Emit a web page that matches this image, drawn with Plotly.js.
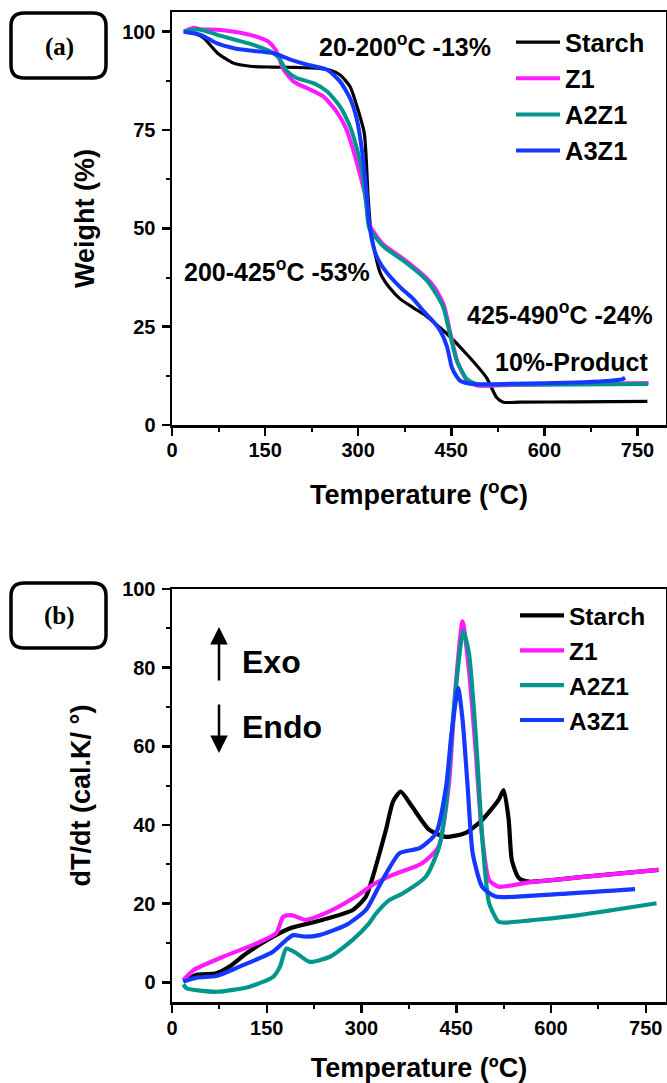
<!DOCTYPE html>
<html><head><meta charset="utf-8">
<script src="https://cdn.plot.ly/plotly-3.0.1.min.js"></script>
<style>html,body{margin:0;padding:0;background:#fff;} #chart{width:667px;height:1083px;}</style>
</head><body><div id="chart"></div>
<script>
// ---------- Panel (a): TGA, Weight (%) vs Temperature (°C) ----------
const starchA_T = [19, 35, 51, 73, 99, 126, 160, 200, 234, 255, 271, 287, 300, 310, 316, 320, 328, 336, 350, 368, 389, 409, 430, 443, 475, 507, 523, 534, 560, 650, 766];
const starchA_W = [100, 99.6, 98.4, 94.6, 92, 91.2, 91, 90.9, 90.7, 90.2, 89, 86, 80, 74, 58, 50, 43, 38.5, 35, 32, 29.8, 27.8, 25, 23.2, 18, 12, 7, 5.8, 5.8, 5.9, 6];
const z1A_T = [19, 27, 35, 45, 73, 100, 126, 155, 167, 180, 196, 218, 244, 266, 280, 299, 313, 318, 340, 375, 409, 423, 438, 449, 460, 476, 491, 550, 650, 768];
const z1A_W = [100, 100.6, 101, 100.6, 100.5, 100, 99.2, 97.5, 95.4, 90.3, 87.3, 85.6, 83.5, 79.5, 75.5, 66, 57, 51, 46, 42, 37.5, 35, 30.5, 23, 16, 11.2, 10, 10.2, 10.4, 10.7];
const a2z1A_T = [19, 30, 46, 73, 100, 126, 158, 172, 185, 200, 228, 250, 271, 287, 300, 307, 313, 318, 340, 375, 409, 421, 437, 448, 459, 475, 491, 550, 650, 767];
const a2z1A_W = [100, 100.4, 100.5, 99.2, 98, 96.9, 95, 93.4, 90, 88.3, 86.9, 84.8, 80.9, 75.8, 69, 64, 56, 50, 45.5, 41.5, 37, 34.5, 30, 23, 16.3, 11.7, 10.4, 10.3, 10.3, 10.4];
const a3z1A_T = [19, 46, 73, 100, 126, 164, 191, 218, 250, 271, 287, 298, 306, 313, 318, 327, 336, 350, 368, 389, 405, 420, 432, 443, 451, 458, 465, 485, 550, 650, 700, 725, 730];
const a3z1A_W = [100, 99.2, 97, 95.8, 95.2, 94.5, 92.9, 91.6, 90.3, 87.3, 83, 77.6, 70, 60, 51, 44, 41, 38, 35, 32, 29, 26.5, 24, 20, 14.6, 12.5, 11.2, 10.4, 10.5, 10.8, 11.2, 11.6, 12];

// ---------- Panel (b): DTA, dT/dt vs Temperature (°C) ----------
const starchB_T = [18, 39, 70, 91, 118, 160, 186, 239, 286, 307, 318, 328, 339, 350, 362, 380, 407, 433, 465, 491, 517, 525, 533, 538, 549, 565, 650, 770];
const starchB_V = [0.2, 1.9, 2.3, 4, 7.4, 11.6, 13.7, 15.9, 18.4, 21.8, 26.9, 32.5, 39, 46, 48.5, 44.7, 38.8, 37, 38, 41.3, 46.4, 48.9, 41.3, 31, 26.5, 25.6, 26.8, 28.6];
const z1B_T = [18, 34, 81, 134, 165, 176, 189, 212, 254, 291, 318, 349, 396, 422, 438, 449, 460, 470, 481, 491, 502, 517, 565, 770];
const z1B_V = [0.6, 3.1, 6.5, 9.9, 12.5, 16.7, 17.1, 15.9, 18.4, 21.8, 24.8, 27.3, 30.3, 34.5, 49.8, 75.2, 91.8, 79.5, 58.3, 37, 26, 24.3, 25.4, 28.6];
const a2z1B_T = [18, 23, 70, 123, 160, 171, 181, 197, 218, 250, 286, 312, 323, 344, 365, 402, 423, 434, 447, 461, 470, 481, 491, 502, 517, 528, 644, 767];
const a2z1B_V = [-0.5, -1.5, -2.4, -1.1, 1.4, 4, 8.6, 7.4, 5.2, 6.5, 10.8, 15, 17.5, 20.9, 22.6, 26.9, 34.5, 45.6, 71, 89.2, 83.7, 62.5, 37, 20.1, 15.4, 15.2, 17.1, 20.1];
const a3z1B_T = [18, 39, 70, 107, 160, 181, 192, 212, 233, 276, 307, 328, 360, 392, 418, 434, 442, 453, 460, 468, 476, 491, 512, 565, 733];
const a3z1B_V = [0.2, 1.2, 1.6, 4, 7.8, 10.8, 12, 11.6, 12, 14.6, 18.4, 24.5, 32.8, 34.1, 37.9, 49.8, 62.5, 74.8, 66.7, 49.8, 32.8, 24.3, 21.8, 22, 23.7];

const seriesNames = ['Starch', 'Z1', 'A2Z1', 'A3Z1'];
const colors = ['#000000', '#ff1aff', '#00968c', '#1438ff'];

const xTitleA = 'Temperature (<sup>o</sup>C)';
const xTitleB = 'Temperature (ºC)';

// ---------- figure ----------
const W = 667, H = 1083;
const FONT = 'Liberation Sans, Arial, Helvetica, sans-serif';
const px = (x) => x / W;
const py = (y) => 1 - y / H;

const dataA = [[starchA_T, starchA_W], [z1A_T, z1A_W], [a2z1A_T, a2z1A_W], [a3z1A_T, a3z1A_W]];
const dataB = [[starchB_T, starchB_V], [z1B_T, z1B_V], [a2z1B_T, a2z1B_V], [a3z1B_T, a3z1B_V]];

const traces = [];
dataA.forEach((d, i) => traces.push({
  x: d[0], y: d[1], name: seriesNames[i], xaxis: 'x', yaxis: 'y', legend: 'legend',
  mode: 'lines', line: {color: colors[i], width: i === 0 ? 3.2 : 4, shape: 'spline', smoothing: 0.6}
}));
dataB.forEach((d, i) => traces.push({
  x: d[0], y: d[1], name: seriesNames[i], xaxis: 'x2', yaxis: 'y2', legend: 'legend2',
  mode: 'lines', line: {color: colors[i], width: 4.2, shape: 'spline', smoothing: 0.6}
}));

const tickFont = {family: FONT, size: 20, color: '#000', weight: 'bold'};
const titleFont = () => ({family: FONT, size: 27, color: '#000', weight: 'bold'});
function axisBase() {
  return {
    showline: true, linewidth: 2.5, linecolor: '#000', mirror: true,
    ticks: 'outside', ticklen: 8, tickwidth: 2.5, tickcolor: '#000',
    showgrid: false, zeroline: false, tickfont: Object.assign({}, tickFont), automargin: false,
  };
}
const xdom = [px(172), px(666)];

function rrect(x0, y0, x1, y1, r) {
  const P = (x, y) => px(x) + ',' + py(y);
  return 'M' + P(x0 + r, y0) + ' L' + P(x1 - r, y0) + ' Q' + P(x1, y0) + ' ' + P(x1, y0 + r) +
    ' L' + P(x1, y1 - r) + ' Q' + P(x1, y1) + ' ' + P(x1 - r, y1) +
    ' L' + P(x0 + r, y1) + ' Q' + P(x0, y1) + ' ' + P(x0, y1 - r) +
    ' L' + P(x0, y0 + r) + ' Q' + P(x0, y0) + ' ' + P(x0 + r, y0) + ' Z';
}

function label(x, y, text, size, opts) {
  return Object.assign({xref: 'paper', yref: 'paper', x: px(x), y: py(y), text: text, showarrow: false,
    xanchor: 'center', yanchor: 'middle',
    font: {family: FONT, size: size, color: '#000', weight: 'bold'}}, opts || {});
}
const serif = 'Liberation Serif, Times New Roman, serif';

const layout = {
  width: W, height: H,
  margin: {l: 0, r: 0, t: 0, b: 0},
  paper_bgcolor: '#fff', plot_bgcolor: '#fff',
  xaxis: Object.assign(axisBase(), {domain: xdom, anchor: 'y', range: [0, 796], tick0: 0, dtick: 150,
    ticklabelstandoff: -3,
    minor: {dtick: 75, ticks: 'outside', ticklen: 4, tickwidth: 2, tickcolor: '#000'},
    title: {text: xTitleA, font: titleFont(), standoff: 26}}),
  yaxis: Object.assign(axisBase(), {domain: [py(425), py(12)], anchor: 'x', range: [0, 105], tick0: 0, dtick: 25,
    ticklabelstandoff: 2,
    minor: {dtick: 12.5, ticks: 'outside', ticklen: 4, tickwidth: 2, tickcolor: '#000'},
    title: {text: 'Weight (%)', font: titleFont(), standoff: 20}}),
  xaxis2: Object.assign(axisBase(), {domain: xdom, anchor: 'y2', range: [0, 782], tick0: 0, dtick: 150,
    ticklabelstandoff: -2,
    minor: {dtick: 75, ticks: 'outside', ticklen: 4, tickwidth: 2, tickcolor: '#000'},
    title: {text: xTitleB, font: titleFont(), standoff: 22}}),
  yaxis2: Object.assign(axisBase(), {domain: [py(1002), py(589)], anchor: 'x2', range: [-5, 100], tick0: 0, dtick: 20,
    ticklabelstandoff: 2,
    minor: {dtick: 10, ticks: 'outside', ticklen: 4, tickwidth: 2, tickcolor: '#000'},
    title: {text: 'dT/dt (cal.K/ °)', font: titleFont(), standoff: 24}}),
  legend: {x: px(511), y: py(19), xanchor: 'left', yanchor: 'top', bgcolor: 'rgba(0,0,0,0)',
    font: {family: FONT, size: 25.5, color: '#000', weight: 'bold'}, itemwidth: 44, tracegroupgap: 0},
  legend2: {x: px(515), y: py(593), xanchor: 'left', yanchor: 'top', bgcolor: 'rgba(0,0,0,0)',
    font: {family: FONT, size: 24.5, color: '#000', weight: 'bold'}, itemwidth: 44, tracegroupgap: 0},
  shapes: [
    {type: 'path', xref: 'paper', yref: 'paper', path: rrect(11, 13, 106, 78, 13), line: {color: '#000', width: 3.5}},
    {type: 'path', xref: 'paper', yref: 'paper', path: rrect(11, 583, 106, 648, 13), line: {color: '#000', width: 3.5}},
  ],
  annotations: [
    label(59, 47, '(a)', 25, {font: {family: serif, size: 25, color: '#000', weight: 'bold'}}),
    label(59, 616, '(b)', 25, {font: {family: serif, size: 25, color: '#000', weight: 'bold'}}),
    label(405, 45, '20-200<sup>o</sup>C -13%', 25),
    label(277, 270, '200-425<sup>o</sup>C -53%', 25),
    label(560, 313, '425-490<sup>o</sup>C -24%', 25),
    label(571, 362, '10%-Product', 25),
    label(240, 662, 'Exo', 32, {xanchor: 'left'}),
    label(240, 727, 'Endo', 32, {xanchor: 'left'}),
    {xref: 'paper', yref: 'paper', x: px(219), y: py(627), text: '', showarrow: true, ax: 0, ay: 55,
      arrowhead: 2, arrowsize: 1.4, arrowwidth: 2.5, arrowcolor: '#000', standoff: 0, startstandoff: 0},
    {xref: 'paper', yref: 'paper', x: px(219), y: py(753), text: '', showarrow: true, ax: 0, ay: -50,
      arrowhead: 2, arrowsize: 1.4, arrowwidth: 2.5, arrowcolor: '#000', standoff: 0, startstandoff: 0},
  ],
};

Plotly.newPlot('chart', traces, layout, {displayModeBar: false, staticPlot: true});
</script></body></html>
